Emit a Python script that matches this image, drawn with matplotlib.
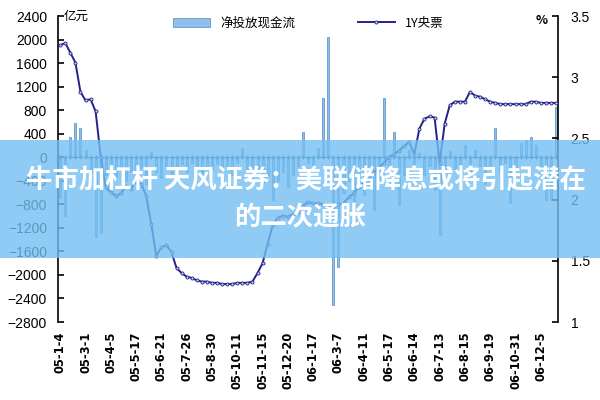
import matplotlib
matplotlib.use("Agg")
import matplotlib.pyplot as plt
from matplotlib.patches import Rectangle

plt.rcParams['font.family'] = ['Noto Sans CJK SC', 'DejaVu Sans']

# x-axis tick labels (every 5th observation)
date_labels = ['05-1-4', '05-3-1', '05-4-5', '05-5-17', '05-6-21', '05-7-26',
               '05-8-30', '05-10-11', '05-11-15', '05-12-20', '06-1-17', '06-3-7',
               '06-4-11', '06-5-17', '06-6-14', '06-7-13', '06-8-15', '06-9-19',
               '06-10-31', '06-12-5']

# 净投放现金流 (亿元), left axis
cash_flow = [-700, -1000, 350, 580, 500, 120, -250, -1350, -1290, -300,
             -200, -350, -150, -400, -250, -300, -180, -450, 90, -250,
             -350, -150, -300, -200, -120, -250, -100, -180, -300, -150,
             -220, -120, -200, -150, -300, -100, 150, -250, -350, -200,
             -450, -300, -730, -400, -250, -500, -300, -150, 430, -100,
             -200, 150, 1000, 2040, -2510, -1860, -600, -400, -750, -300,
             -650, -500, -900, -350, 1000, -200, 430, -810, -300, 120,
             -200, 80, -300, -150, -560, -1320, -250, 100, -200, -150,
             210, -300, 120, -150, -450, -200, 500, -250, -100, -780,
             -200, 250, 300, 350, 200, -150, -730, -730, 850]

# 1Y央票 (%), right axis
bill_rate = [3.26, 3.28, 3.20, 3.12, 2.88, 2.81, 2.82, 2.72, 2.35, 2.10,
             2.06, 2.03, 2.05, 2.11, 2.09, 2.15, 2.13, 2.03, 1.80, 1.54,
             1.61, 1.63, 1.57, 1.44, 1.40, 1.37, 1.36, 1.34, 1.33, 1.33,
             1.32, 1.32, 1.31, 1.31, 1.31, 1.32, 1.32, 1.32, 1.33, 1.40,
             1.48, 1.64, 1.79, 1.85, 1.87, 1.86, 1.88, 1.90, 1.95, 1.98,
             1.97, 1.97, 1.96, 1.95, 1.94, 1.96, 1.97, 2.02, 2.05, 2.10,
             2.14, 2.18, 2.22, 2.26, 2.30, 2.35, 2.37, 2.40, 2.44, 2.47,
             2.37, 2.58, 2.66, 2.68, 2.67, 2.30, 2.62, 2.77, 2.80, 2.80,
             2.80, 2.88, 2.85, 2.84, 2.82, 2.80, 2.79, 2.78, 2.78, 2.78,
             2.78, 2.78, 2.78, 2.80, 2.80, 2.79, 2.79, 2.79, 2.79]

x = list(range(len(cash_flow)))
label_pos = x[::5][:len(date_labels)]

fig = plt.figure(figsize=(6, 4), dpi=100)
ax = fig.add_axes([0.097, 0.195, 0.833, 0.765])

ax.bar(x, cash_flow, width=0.4, color='#8fc0ec', edgecolor='#5389c2',
       linewidth=0.5, label='净投放现金流', zorder=2)
ax.axhline(0, color='#3a5f8f', lw=0.8, zorder=3)
ax.plot(x, [0] * len(x), '|', color='#3a5f8f', ms=3, zorder=3)

ax.set_ylim(-2800, 2400)
ax.set_yticks(range(-2800, 2401, 400))
ax.set_xlim(-0.4, len(x) - 0.6)
ax.set_xticks(label_pos)
ax.set_xticklabels(date_labels, rotation=90, fontsize=8.3, fontweight='bold',
                   family='DejaVu Sans')
ax.tick_params(axis='x', length=0, pad=7)
ax.tick_params(axis='y', direction='in', length=4, labelsize=10, width=1.2, pad=8)
for lab in ax.get_yticklabels():
    lab.set_family('Liberation Sans')
for s in ['top', 'right', 'bottom']:
    ax.spines[s].set_visible(False)
ax.spines['left'].set_linewidth(1.2)

ax2 = ax.twinx()
ax2.plot(x, bill_rate, color='#22228a', lw=1.4, marker='o', ms=2.2,
         mfc='#c9c9f0', mec='#22228a', mew=0.6, label='1Y央票', zorder=4)
ax2.set_ylim(1, 3.5)
ax2.set_yticks([1, 1.5, 2, 2.5, 3, 3.5])
ax2.set_yticklabels(['1', '1.5', '2', '2.5', '3', '3.5'], family='Liberation Sans')
ax2.tick_params(axis='y', direction='in', length=4, labelsize=10, width=1.2, pad=9)
for s in ['top', 'left', 'bottom']:
    ax2.spines[s].set_visible(False)
ax2.spines['right'].set_linewidth(1.2)

ax.text(0.01, 1.0, '亿元', transform=ax.transAxes, fontsize=9, va='center', ha='left')
ax2.text(0.98, 0.985, '%', transform=ax2.transAxes, fontsize=9, va='center', ha='right',
         fontweight='bold')

h1, l1 = ax.get_legend_handles_labels()
h2, l2 = ax2.get_legend_handles_labels()
ax.legend(h1 + h2, l1 + l2, loc='upper center', bbox_to_anchor=(0.5, 1.035), ncol=2,
          frameon=False, fontsize=9, columnspacing=5, handlelength=3)

# banner overlay
fig.patches.append(Rectangle((0, 0.355), 1, 0.295, transform=fig.transFigure,
                             facecolor='#73bff2', alpha=0.8, edgecolor='none', zorder=10))
fig.text(0.51, 0.548, '牛市加杠杆 天风证券：美联储降息或将引起潜在', color='white',
         fontsize=19, fontweight='bold', ha='center', va='center', zorder=11)
fig.text(0.5, 0.455, '的二次通胀', color='white', fontsize=19, fontweight='bold',
         ha='center', va='center', zorder=11)

fig.savefig('out.png', dpi=100)
